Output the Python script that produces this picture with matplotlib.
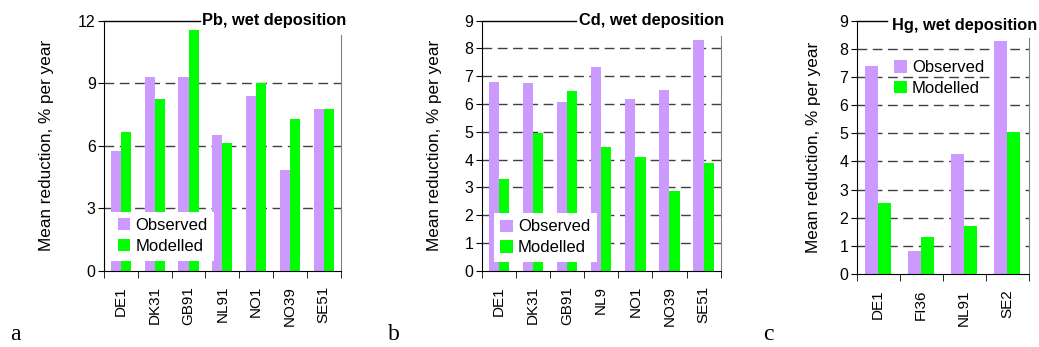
import matplotlib.pyplot as plt
import numpy as np

plt.rcParams['font.family'] = ['Liberation Sans', 'DejaVu Sans']

# Panel a: Pb
pb_sites = ["DE1", "DK31", "GB91", "NL91", "NO1", "NO39", "SE51"]
pb_observed = [5.75, 9.3, 9.3, 6.5, 8.38, 4.83, 7.76]
pb_modelled = [6.64, 8.24, 11.55, 6.11, 9.0, 7.28, 7.76]

# Panel b: Cd
cd_sites = ["DE1", "DK31", "GB91", "NL9", "NO1", "NO39", "SE51"]
cd_observed = [6.79, 6.75, 6.06, 7.32, 6.17, 6.5, 8.3]
cd_modelled = [3.29, 4.95, 6.47, 4.45, 4.08, 2.87, 3.87]

# Panel c: Hg
hg_sites = ["DE1", "FI36", "NL91", "SE2"]
hg_observed = [7.39, 0.83, 4.26, 8.29]
hg_modelled = [2.52, 1.31, 1.70, 5.04]

OBS_COLOR = "#CC99FF"
MOD_COLOR = "#00FF00"
W, H = 1039, 347


def panel(rect_px, sites, obs, mod, ymax, step, title, title_x, title_y,
          line_end, right_top, legend_kw, ylabel_pad):
    l, t, r, b = rect_px
    ax = fig.add_axes([l / W, 1 - b / H, (r - l) / W, (b - t) / H])
    x = np.arange(len(sites))
    bw = 0.3
    ax.bar(x - bw / 2, obs, bw, color=OBS_COLOR, label="Observed", zorder=2)
    ax.bar(x + bw / 2, mod, bw, color=MOD_COLOR, label="Modelled", zorder=2)
    ax.set_xlim(-0.5, len(sites) - 0.5)
    ax.set_ylim(0, ymax)
    ax.set_yticks(np.arange(0, ymax + 0.01, step))
    ax.set_xticks(x)
    ax.set_xticklabels(sites, rotation=90, fontsize=11)
    ax.set_xticks(np.arange(-0.5, len(sites), 1), minor=True)
    ax.tick_params(axis="x", which="major", length=0, pad=11)
    ax.tick_params(axis="x", which="minor", length=5, direction="out")
    ax.tick_params(axis="y", length=4, labelsize=11.5, pad=2)
    for v in np.arange(step, ymax - 0.01, step):
        ax.axhline(v, color="#404040", lw=1, dashes=(7, 4), zorder=1)
    ax.spines["top"].set_visible(False)
    ax.spines["right"].set_color("#808080")
    ax.spines["right"].set_bounds(0, right_top)
    ax.plot([0, line_end], [1, 1], color="black", lw=1,
            transform=ax.transAxes, clip_on=False)
    ax.text(title_x, title_y, title, transform=ax.transAxes, ha="left",
            va="center", fontsize=11.8, fontweight="bold")
    ax.set_ylabel("Mean reduction, % per year", fontsize=12.3,
                  labelpad=ylabel_pad)
    leg = ax.legend(fontsize=12, handlelength=0.75, handleheight=0.75,
                    handletextpad=0.3, labelspacing=0.35, borderaxespad=0,
                    fancybox=False, **legend_kw)
    leg.get_frame().set_linewidth(0)
    return ax


fig = plt.figure(figsize=(W / 100, H / 100), dpi=100)

panel((104, 20.7, 340.7, 270.7), pb_sites, pb_observed, pb_modelled, 12, 3,
      "Pb, wet deposition", 0.413, 1.0, 0.405, 11.3,
      dict(loc="lower left", bbox_to_anchor=(0.03, 0.04), framealpha=1), 17)
panel((481.7, 20.7, 720.7, 270.7), cd_sites, cd_observed, cd_modelled, 9, 1,
      "Cd, wet deposition", 0.406, 1.0, 0.395, 8.45,
      dict(loc="lower left", bbox_to_anchor=(0.05, 0.035), framealpha=1), 16)
panel((856.7, 20.7, 1028.7, 274), hg_sites, hg_observed, hg_modelled, 9, 1,
      "Hg, wet deposition", 0.203, 0.983, 0.174, 8.4,
      dict(loc="upper left", bbox_to_anchor=(0.18, 0.87), frameon=False), 13)

for lbl, xp in [("a", 10), ("b", 388), ("c", 763)]:
    fig.text(xp / W, 1 - 334 / H, lbl, family="Liberation Serif",
             fontsize=17, va="center", ha="left")

fig.savefig("out.png", dpi=100)
